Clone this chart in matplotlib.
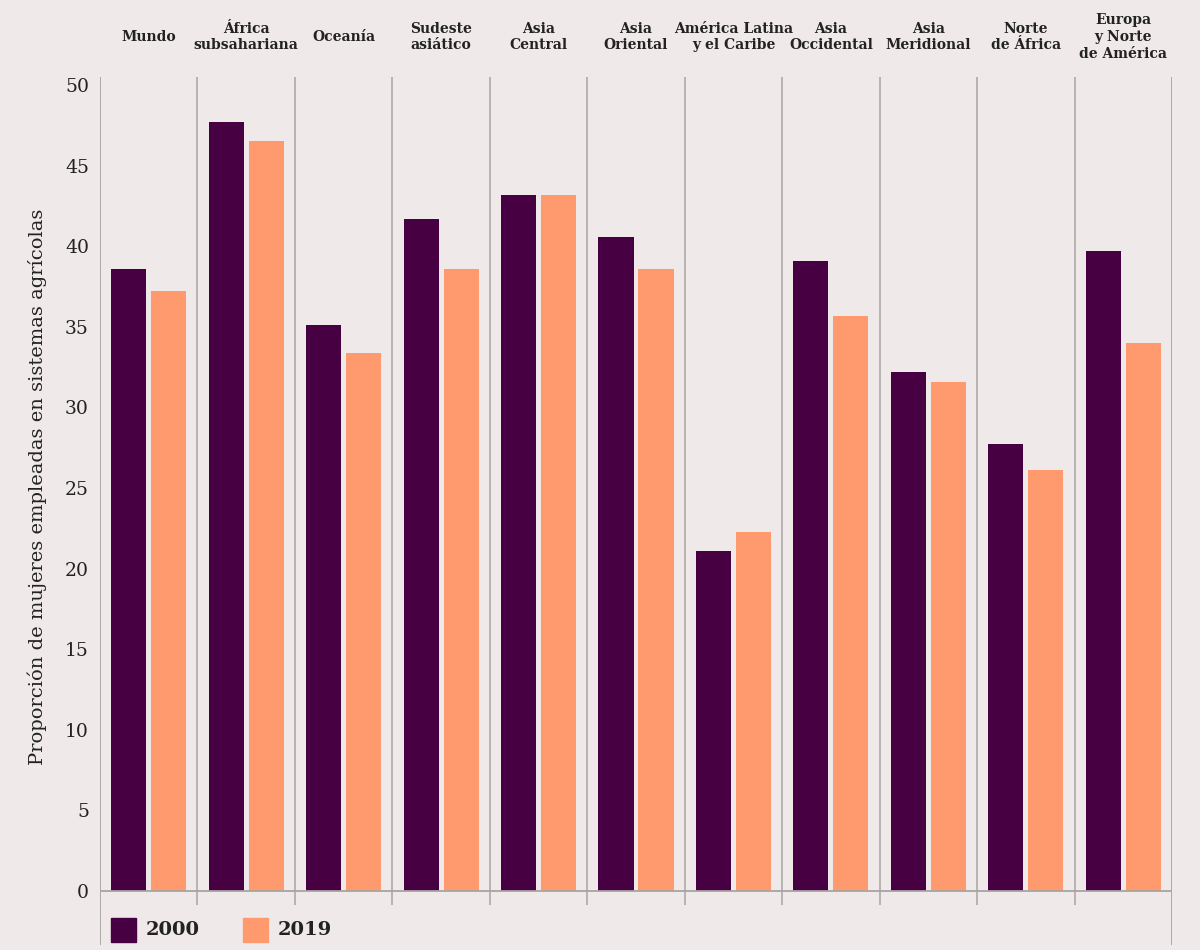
import matplotlib
matplotlib.use("Agg")
import matplotlib.pyplot as plt
import numpy as np

categories = ["Mundo", "África\nsubsahariana", "Oceanía", "Sudeste\nasiático", "Asia\nCentral",
              "Asia\nOriental", "América Latina\ny el Caribe", "Asia\nOccidental", "Asia\nMeridional",
              "Norte\nde África", "Europa\ny Norte\nde América"]
values_2000 = [38.6, 47.7, 35.1, 41.7, 43.2, 40.6, 21.1, 39.1, 32.2, 27.7, 39.7]
values_2019 = [37.2, 46.5, 33.4, 38.6, 43.2, 38.6, 22.3, 35.7, 31.6, 26.1, 34.0]
series_labels = ["2000", "2019"]
yticks = [0, 5, 10, 15, 20, 25, 30, 35, 40, 45, 50]
ylabel = "Proporción de mujeres empleadas en sistemas agrícolas"

BG = "#efeae9"
C2000 = "#470042"
C2019 = "#ff9a6e"
GRID = "#a8a4a2"
TXT = "#222222"
FONT = "DejaVu Serif"

fig = plt.figure(figsize=(12, 9.5), dpi=100, facecolor=BG)
ax = fig.add_axes([100/1200, 1 - 945/950, (1172-100)/1200, (945-77)/950])
ax.set_facecolor(BG)

n = len(categories)
x = np.arange(n) + 0.5
bw = 0.36
off = 0.205
ax.bar(x - off, values_2000, width=bw, color=C2000, zorder=3)
ax.bar(x + off, values_2019, width=bw, color=C2019, zorder=3)

ppu = (891 - 85) / 50.0
ytop = (891 - 77) / ppu
ybot = -(945 - 891) / ppu
ysep = -(905 - 891) / ppu
ax.set_xlim(0, n)
ax.set_ylim(ybot, ytop)

for s in ax.spines.values():
    s.set_visible(False)

ax.vlines([0, n], ybot, ytop, color=GRID, lw=1.3, zorder=2)
ax.vlines(np.arange(1, n), ysep, ytop, color=GRID, lw=1.1, zorder=2)
ax.hlines(0, 0, n, color=GRID, lw=1.3, zorder=4)

ax.set_yticks(yticks)
ax.set_yticklabels([str(t) for t in yticks], fontfamily=FONT, fontsize=13.5, color=TXT)
ax.tick_params(axis="y", length=0, pad=8)
ax.set_xticks([])
fig.text(37/1200, 1 - 487/950, ylabel, rotation=90, ha="center", va="center",
         fontfamily=FONT, fontsize=14, color=TXT)

ylab = (891 - 37) / ppu
for xi, c in zip(x, categories):
    ax.text(xi, ylab, c, ha="center", va="center", fontfamily=FONT, fontweight="bold",
            fontsize=10, color=TXT, linespacing=1.25, clip_on=False)

# legend
ly = -(930 - 891) / ppu
sq_h = 24 / ppu
for i, (lab, col) in enumerate(zip(series_labels, [C2000, C2019])):
    x0 = (111 + i * 132 - 100) / 97.45
    ax.add_patch(plt.Rectangle((x0, ly - sq_h / 2), 25 / 97.45, sq_h, color=col, zorder=5, clip_on=False))
    ax.text(x0 + 35 / 97.45, ly, lab, ha="left", va="center", fontfamily=FONT, fontweight="bold",
            fontsize=14, color=TXT)

fig.savefig("out.png", dpi=100, facecolor=BG)
